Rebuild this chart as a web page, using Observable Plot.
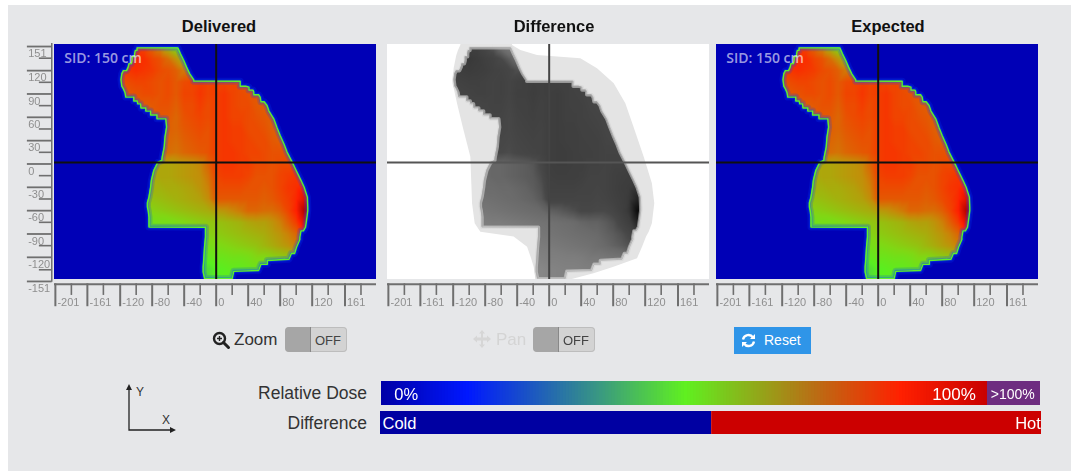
<!DOCTYPE html>
<html>
<head>
<meta charset="utf-8">
<script src="https://cdn.jsdelivr.net/npm/d3@7"></script>
<script src="https://cdn.jsdelivr.net/npm/@observablehq/plot@0.6"></script>
<style>
  html,body{margin:0;padding:0;background:#fff;}
  #page{position:relative;width:1071px;height:471px;overflow:hidden;font-family:"Liberation Sans",Arial,sans-serif;}
  #bg{position:absolute;left:8px;top:5px;right:0;bottom:0;background:#e6e7e9;}
  .abs{position:absolute;white-space:nowrap;line-height:1;}
  .title{font-weight:bold;font-size:16.500px;color:#111;transform:translateX(-50%);}
  .lab{font-size:17.500px;color:#333;text-align:right;}
  .toggle{position:absolute;width:62px;height:25px;border-radius:4px;background:#d3d3d3;box-shadow:inset 0 0 0 1px #bdbdbd;overflow:hidden;}
  .toggle i{position:absolute;left:0;top:0;width:25px;height:25px;background:#a6a6a6;border-right:1px solid #888;border-radius:4px 0 0 4px;}
  .toggle span{position:absolute;left:30px;top:6px;font-size:13px;color:#444;}
  #reset{position:absolute;left:734px;top:327px;width:77px;height:27px;background:#2f95e8;color:#fff;font-size:14px;}
  svg{overflow:visible;}
</style>
</head>
<body>
<div id="page"><div id="bg"></div></div>
<script>
// ---- axis labels
const xTickLabels = [-201,-161,-120,-80,-40,0,40,80,120,161];
const xMinorTicks = [-181,-141,-100,-60,-20,20,60,100,140,181];
const yTickLabels = [151,120,90,60,30,0,-30,-60,-90,-120,-151];
const yMinorTicks = [136,105,75,45,15,-15,-45,-75,-105,-136];

// ---- relative dose (%) read on a coarse grid
const doseX = [-120,-110,-100,-90,-80,-70,-60,-50,-40,-30,-20,-10,0,10,20,30,40,50,60,70,80,90,100,110,120];
const doseY = [150,135,120,105,90,75,60,45,30,15,0,-15,-30,-45,-60,-75,-90,-105,-120,-135,-150];
const doseGrid = [
 [84,84,84,82,77,72,64,57,56,56,80,80,82,82,82,80,78,78,78,78,78,78,78,78,78],
 [84,85,86,85,82,80,76,70,64,60,80,80,82,82,82,80,78,78,78,78,78,78,78,78,78],
 [83,84,85,84,83,81,80,78,74,70,78,80,82,82,82,80,78,78,78,78,78,78,78,78,78],
 [80,81,82,82,81,80,81,79,81,82,83,82,83,82,82,80,79,78,78,78,78,78,78,78,78],
 [79,79,80,81,81,80,81,79,82,82,84,82,83,84,82,81,80,79,77,77,77,77,77,77,77],
 [78,78,78,78,79,80,80,78,81,81,83,81,83,84,82,81,81,79,78,78,78,78,78,78,78],
 [78,78,78,78,78,79,79,77,80,81,82,81,83,84,82,82,81,80,79,78,78,78,78,78,78],
 [77,77,77,77,77,77,78,77,79,80,81,80,83,84,83,83,81,81,80,78,78,78,78,78,78],
 [76,76,76,76,76,76,77,76,78,79,80,80,83,84,83,83,82,81,81,79,78,78,78,78,78],
 [75,75,75,75,75,76,76,75,77,78,79,80,83,84,84,83,82,82,81,80,80,79,79,79,79],
 [66,66,66,66,66,67,67,68,69,70,72,77,83,84,84,83,83,81,81,80,81,81,80,80,80],
 [66,66,66,66,66,67,67,68,69,70,71,75,82,83,83,83,82,80,80,80,82,83,84,84,84],
 [65,65,65,65,65,65,66,66,67,68,70,73,81,81,81,81,80,80,79,80,82,84,85,87,87],
 [63,63,63,63,62,63,64,65,66,67,68,71,79,79,79,79,79,79,78,79,81,83,86,92,92],
 [60,60,60,60,59,60,61,62,63,64,65,66,69,70,72,74,77,77,76,76,78,82,87,99,99],
 [56,56,56,56,55,56,56,57,58,59,60,61,62,63,64,65,67,68,68,70,73,78,83,92,92],
 [54,54,54,54,54,54,54,55,56,57,58,59,60,61,62,63,64,65,66,68,70,73,77,82,82],
 [54,54,54,54,54,54,54,54,54,54,54,56,57,58,59,60,61,62,64,66,68,70,73,75,75],
 [51,51,51,51,51,51,51,51,51,51,51,52,54,54,55,55,56,58,58,59,60,61,62,62,62],
 [47,47,47,47,47,47,47,47,47,47,47,47,50,51,52,52,53,54,54,54,54,54,54,54,54],
 [47,47,47,47,47,47,47,47,47,47,47,47,50,51,52,52,53,54,54,54,54,54,54,54,54]
];

// ---- field outline, left and right boundary (with the leaf steps)
const fieldLeftY = [149.3,146,146,141.6,138,138,133,129,129,124.5,120,120,115.9,108.2,100,96.6,92,86,86,81,81,77.3,77.3,72,72,68,68,63,63,58,58,47.3,34.5,21.6,8.8,4.5,2,-8.4,-21,-30,-42.6,-50,-55.5,-60,-68.3,-81.1,-81.3,-94,-107,-122,-132.6,-139,-147.5];
const fieldLeftX = [-98.8,-99,-101,-102,-102,-105,-105,-106,-109,-110,-112,-116,-118,-119,-118,-116,-114,-113,-103,-103,-98.8,-98,-94.6,-94,-88,-88,-82,-82,-74,-74,-63,-62,-64,-65,-67.5,-68,-73,-78,-81,-82,-84,-86,-86,-85,-84,-84,-13.4,-13.4,-14.6,-15.5,-16.3,-16.3,-14.5];
const fieldRightY = [149.3,141.6,133,124.5,115.9,108.2,106.5,106.4,100,100,98.7,95,95,92.4,89,89,85.9,80,80,75.2,68,58,47,36.7,25,15.3,2.4,-8.4,-21,-30,-42.6,-55.5,-60,-68.3,-81.2,-86,-86,-94,-97,-107,-115,-115,-122.5,-124,-129,-129,-137,-138,-147.5];
const fieldRightX = [-47.9,-44.6,-40.5,-37,-33,-28,-28,30,30,37,41,41,46,47,47,53,55,56,60,63.6,66,72,76,80,85,88.6,95,100,106,110,114,114.5,114.5,113.5,111.7,109,106,104.6,104.6,100.4,98,94,91,64,64,56,53,22,20];

// ---- halo of the difference map, row by row
const haloY = [154,152.3,145.9,139.5,135.2,122.3,103,77.3,47.3,8.8,-25.5,-51.2,-76.9,-87.6,-94,-106.9,-121.9,-132.6,-141.2,-149];
const haloL = [-110.4,-110.4,-113.3,-115.4,-116.3,-118.8,-120,-114.6,-107.5,-97.9,-96.7,-95.8,-92.5,-85.4,-43.8,-27,-22,-18.8,-17.5,-16.7];
const haloR = [-45.8,-45.8,-35.4,-14.6,39.6,60.4,81.3,95.8,106,118.8,129,132,129,125,121.7,116.7,110.4,81,56,27];

// ---- colour stops
const doseStops = [0,14,36,50,58,66,72,82,87,100];
const doseColors = ["#0000a8","#0018ff","#3a9a80","#58f020","#80d814","#a8ac0c","#c88808","#f04400","#ff2000","#b00000"];
const greyStops = [45,56,66,76,85,100];
const greyColors = ["#8a8a8a","#7c7c7c","#6a6a6a","#484848","#3c3c3c","#0a0a0a"];

// ---- tables for the marks
const dosePoints = doseGrid.flatMap((row,i)=>row.map((v,j)=>({x:doseX[j],y:doseY[i],dose:v})));
const xLo=-202.1, xHi=200.4, yHi=153.6, yLo=-148.5;
const leftRows = [{y:yHi,x:-70},{y:149.4,x:-70},...fieldLeftY.map((y,i)=>({y,x:fieldLeftX[i]})),{y:-147.6,x:0},{y:yLo,x:0}];
const rightRows = [{y:yHi,x:-70},{y:149.4,x:-70},...fieldRightY.map((y,i)=>({y,x:fieldRightX[i]})),{y:-147.6,x:0},{y:yLo,x:0}];
const outline = [
  ...fieldLeftY.map((y,i)=>({x:fieldLeftX[i],y})),
  ...fieldRightY.map((y,i)=>({x:fieldRightX[i],y})).reverse(),
  {x:fieldLeftX[0],y:fieldLeftY[0]}
];
const haloRows = haloY.map((y,i)=>({y,l:haloL[i],r:haloR[i]}));

function axes(){
  const c="#6f6f6f", t="#8f8f8f";
  return [
    Plot.ruleY([0],{x1:xLo,x2:xHi,y:()=>-154.5,stroke:c,strokeWidth:2}),
    Plot.ruleX(xTickLabels,{x:d=>d,y1:()=>-154,y2:()=>-183.5,stroke:c,strokeWidth:2}),
    Plot.ruleX(xMinorTicks,{x:d=>d,y1:()=>-154,y2:()=>-169,stroke:c,strokeWidth:1.6}),
    Plot.text(xTickLabels,{x:d=>d,y:()=>-177.5,text:d=>String(d),dx:2,textAnchor:"start",fill:t,fontSize:11})
  ];
}
function leftAxis(){
  const c="#6f6f6f", t="#8f8f8f";
  return [
    Plot.ruleX([0],{x:()=>-205.5,y1:()=>155,y2:()=>-152,stroke:c,strokeWidth:1.5}),
    Plot.ruleY(yTickLabels,{y:d=>d,x1:()=>-236,x2:()=>-205,stroke:c,strokeWidth:1.8}),
    Plot.ruleY(yMinorTicks,{y:d=>d,x1:()=>-221,x2:()=>-205,stroke:c,strokeWidth:1.6}),
    Plot.text(yTickLabels,{y:d=>d,x:()=>-235,dy:7,text:d=>String(d),textAnchor:"start",fill:t,fontSize:11})
  ];
}
function panel(left,kind,withY){
  const isDiff = kind==="diff";
  const out = isDiff?"#e4e4e4":"#0000b6";
  const marks = [
    Plot.rect([0],{x1:()=>xLo,x2:()=>xHi,y1:()=>yHi,y2:()=>yLo,fill:()=>out}),
    Plot.raster(dosePoints,{x:"x",y:"y",fill:"dose",interpolate:"barycentric",x1:xLo+3,x2:xHi-3,y1:yHi-3,y2:yLo+1.5}),
    Plot.areaX(leftRows,{y:"y",x1:()=>xLo,x2:"x",fill:()=>out}),
    Plot.areaX(rightRows,{y:"y",x1:"x",x2:()=>xHi,fill:()=>out})
  ];
  if(isDiff){
    marks.push(Plot.areaX(haloRows,{y:"y",x1:()=>xLo,x2:"l",fill:()=>"#ffffff",clip:"frame"}));
    marks.push(Plot.areaX(haloRows,{y:"y",x1:"r",x2:()=>xHi,fill:()=>"#ffffff",clip:"frame"}));
    marks.push(Plot.line(outline,{x:"x",y:"y",stroke:"#d4d4d4",strokeWidth:3.5,strokeOpacity:0.6,strokeLinejoin:"round",clip:"frame"}));
    marks.push(Plot.line(outline,{x:"x",y:"y",stroke:"#a8a8a8",strokeWidth:1,strokeOpacity:0.7,strokeLinejoin:"round",clip:"frame"}));
    marks.push(Plot.ruleX([0],{x:d=>d,y1:yHi,y2:yLo,stroke:"#444",strokeWidth:2}));
    marks.push(Plot.ruleY([2],{y:d=>d,x1:xLo,x2:xHi,stroke:"#555",strokeWidth:2}));
  } else {
    marks.push(Plot.line(outline,{x:"x",y:"y",stroke:"#0040ff",strokeWidth:7,strokeOpacity:0.2,strokeLinejoin:"round",clip:"frame"}));
    marks.push(Plot.line(outline,{x:"x",y:"y",stroke:"#0060ff",strokeWidth:3.500,strokeOpacity:0.3,strokeLinejoin:"round",clip:"frame"}));
    marks.push(Plot.line(outline,{x:"x",y:"y",stroke:"#60f028",strokeWidth:1.4,strokeLinejoin:"round",clip:"frame"}));
    marks.push(Plot.ruleX([0],{x:d=>d,y1:yHi,y2:yLo,stroke:"#101010",strokeWidth:2}));
    marks.push(Plot.ruleY([2],{y:d=>d,x1:xLo,x2:xHi,stroke:"#101010",strokeWidth:2}));
    marks.push(Plot.text(["SID: 150 cm"],{x:()=>-190,y:()=>135.6,text:d=>d,textAnchor:"start",fill:"#fff",fillOpacity:0.62,fontSize:14,fontFamily:"Open Sans",fontWeight:600}));
  }
  marks.push(...axes());
  if(withY) marks.push(...leftAxis());
  const svg = Plot.plot({
    width:366,height:279,
    marginLeft:34,marginRight:10,marginTop:4,marginBottom:40,
    style:{background:"transparent",fontFamily:"'Liberation Sans',Arial,sans-serif",overflow:"visible"},
    x:{domain:[xLo,xHi],range:[34,356],axis:null},
    y:{domain:[yHi,yLo],range:[4,239],axis:null},
    color: isDiff ? {type:"linear",domain:greyStops,range:greyColors} : {type:"linear",domain:doseStops,range:doseColors},
    marks
  });
  svg.style.position="absolute";
  svg.style.left=left+"px";
  svg.style.top="40px";
  svg.style.filter="blur(0.55px)";
  document.getElementById("page").appendChild(svg);
}
panel(20,"dose",true);
panel(353,"diff",false);
panel(682,"dose",false);

// ---- legend bars
const doseSteps = d3.range(0,100,0.5);
const doseBar = Plot.plot({
  width:659,height:24,margin:0,
  style:{background:"transparent",fontFamily:"'Liberation Sans',Arial,sans-serif",overflow:"visible"},
  x:{domain:[0,108.75],range:[0,659],axis:null},
  y:{domain:[0,1],range:[24,0],axis:null},
  color:{type:"linear",domain:[0,14,36,50,71,85.5,100],range:["#0000a8","#0018ff","#3a9a80","#60f020","#b87015","#ff2000","#c80000"]},
  marks:[
    Plot.rect(doseSteps,{x1:d=>d,x2:d=>d+1.5,y1:()=>0,y2:()=>1,fill:d=>d}),
    Plot.rect([0],{x1:()=>100,x2:()=>108.75,y1:()=>0,y2:()=>1,fill:()=>"#6e2d80"}),
    Plot.text(["0%"],{x:()=>2.1,y:()=>0.47,text:d=>d,textAnchor:"start",fill:"#fff",fontSize:16.5}),
    Plot.text(["100%"],{x:()=>90.9,y:()=>0.47,text:d=>d,textAnchor:"start",fill:"#fff",fontSize:17}),
    Plot.text([">100%"],{x:()=>100.55,y:()=>0.47,text:d=>d,textAnchor:"start",fill:"#fff",fontSize:14})
  ]
});
doseBar.style.cssText+="position:absolute;left:381px;top:381px;filter:blur(0.3px);";
document.getElementById("page").appendChild(doseBar);

const diffSides = ["Cold","Hot"];
const diffFrom = [0,50.1];
const diffTo = [50.1,100];
const diffColors = ["#0000a2","#cc0000"];
const diffBar = Plot.plot({
  width:661,height:23,margin:0,
  style:{background:"transparent",fontFamily:"'Liberation Sans',Arial,sans-serif",overflow:"visible"},
  x:{domain:[0,100],range:[0,661],axis:null},
  y:{domain:[0,1],range:[23,0],axis:null},
  marks:[
    Plot.rect(diffSides,{x1:(d,i)=>diffFrom[i],x2:(d,i)=>diffTo[i],y1:()=>0,y2:()=>1,fill:(d,i)=>diffColors[i]}),
    Plot.text(["Cold"],{x:()=>0.3,y:()=>0.47,text:d=>d,textAnchor:"start",fill:"#fff",fontSize:16.5}),
    Plot.text(["Hot"],{x:()=>99.9,y:()=>0.47,text:d=>d,textAnchor:"end",fill:"#fff",fontSize:16.5})
  ]
});
diffBar.style.cssText+="position:absolute;left:380px;top:411px;filter:blur(0.3px);";
document.getElementById("page").appendChild(diffBar);

// ---- page furniture
const page=document.getElementById("page");
function add(html){const t=document.createElement("div");t.innerHTML=html;while(t.firstChild)page.appendChild(t.firstChild);}
add(`
<div class="abs title" style="left:219px;top:18px">Delivered</div>
<div class="abs title" style="left:554px;top:18px">Difference</div>
<div class="abs title" style="left:888px;top:18px">Expected</div>

<svg class="abs" style="left:212px;top:331px" width="19" height="18" viewBox="0 0 19 18">
  <circle cx="7.5" cy="7.5" r="5.5" fill="none" stroke="#222" stroke-width="2.4"/>
  <path d="M11.5 11.5L16.5 16.5" stroke="#222" stroke-width="3" stroke-linecap="round"/>
  <path d="M7.5 5v5M5 7.5h5" stroke="#222" stroke-width="1.4"/>
</svg>
<div class="abs" style="left:234px;top:331px;font-size:17px;color:#333">Zoom</div>
<div class="toggle" style="left:285px;top:327px"><i></i><span>OFF</span></div>

<svg class="abs" style="left:473px;top:330px" width="18" height="18" viewBox="0 0 18 18">
  <path d="M9 0l3 3.500h-2v4h4v-2l4 3.500-4 3.500v-2h-4v4h2L9 18l-3-3.500h2v-4H4v2L0 9l4-3.500v2h4v-4H6z" fill="#d6d6d6"/>
</svg>
<div class="abs" style="left:496px;top:331px;font-size:17px;color:#d4d4d4">Pan</div>
<div class="toggle" style="left:533px;top:327px"><i></i><span>OFF</span></div>

<div id="reset">
  <svg class="abs" style="left:7px;top:6px" width="15" height="15" viewBox="0 0 15 15">
    <path d="M2 6.500A5.500 5.500 0 0 1 12 4.500" fill="none" stroke="#fff" stroke-width="2.300"/>
    <path d="M14 1v5h-5z" fill="#fff"/>
    <path d="M13 8.500A5.500 5.500 0 0 1 3 10.500" fill="none" stroke="#fff" stroke-width="2.300"/>
    <path d="M1 14V9h5z" fill="#fff"/>
  </svg>
  <div class="abs" style="left:30px;top:6px;font-size:14px">Reset</div>
</div>

<svg class="abs" style="left:120px;top:380px" width="64" height="58" viewBox="0 0 64 58">
  <path d="M9 8V50H52" fill="none" stroke="#222" stroke-width="1.300"/>
  <path d="M9 4l-3 6h6zM56 50l-6-3v6z" fill="#222"/>
  <text x="16" y="16" font-size="12" fill="#333" font-family="Liberation Sans">Y</text>
  <text x="42" y="44" font-size="12" fill="#333" font-family="Liberation Sans">X</text>
</svg>

<div class="abs lab" style="right:704px;top:385px">Relative Dose</div>
<div class="abs lab" style="right:704px;top:415px">Difference</div>
`);
</script>
</body>
</html>
